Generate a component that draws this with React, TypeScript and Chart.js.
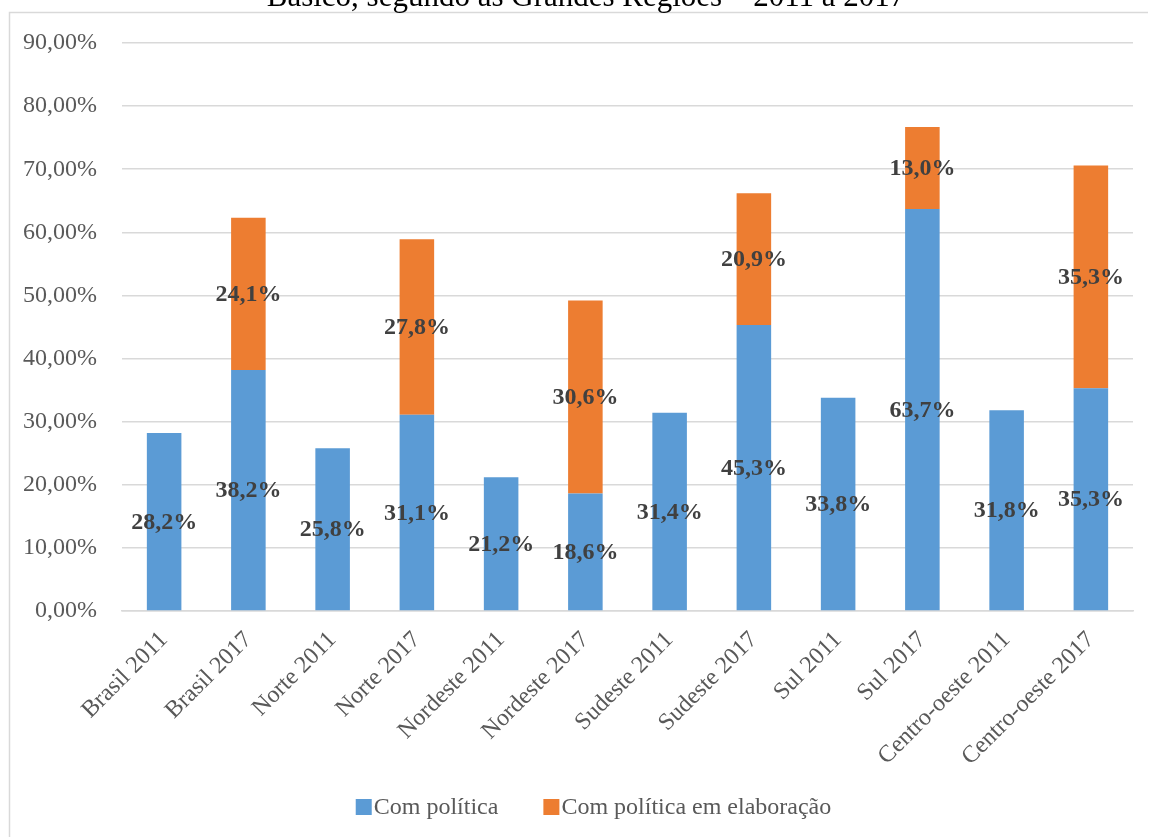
import React, { useEffect, useRef } from "react";
import { Chart, registerables } from "chart.js";

Chart.register(...registerables);

// Municípios com política, por região e ano (em %)
const categories = [
  "Brasil 2011",
  "Brasil 2017",
  "Norte 2011",
  "Norte 2017",
  "Nordeste 2011",
  "Nordeste 2017",
  "Sudeste 2011",
  "Sudeste 2017",
  "Sul 2011",
  "Sul 2017",
  "Centro-oeste 2011",
  "Centro-oeste 2017",
];

const comPolitica = [28.2, 38.2, 25.8, 31.1, 21.2, 18.6, 31.4, 45.3, 33.8, 63.7, 31.8, 35.3];
const emElaboracao = [0, 24.1, 0, 27.8, 0, 30.6, 0, 20.9, 0, 13.0, 0, 35.3];

const seriesNames = ["Com política", "Com política em elaboração"];
const yTicks = [0, 10, 20, 30, 40, 50, 60, 70, 80, 90];
const titleText = "Básico, segundo as Grandes Regiões – 2011 a 2017";

const SERIF = '"Liberation Serif", "Times New Roman", serif';
const BLUE = "#5B9BD5";
const ORANGE = "#ED7D31";
const GRID = "#d9d9d9";
const TEXT = "#595959";

Chart.defaults.font.family = SERIF;

const fmtPct = (v: number) => v.toFixed(1).replace(".", ",") + "%";

// moldura e título (o título fica parcialmente acima da área visível)
const framePlugin = {
  id: "frame",
  beforeDraw(chart: any) {
    const { ctx, width, height } = chart;
    ctx.save();
    ctx.strokeStyle = GRID;
    ctx.lineWidth = 1.5;
    ctx.beginPath();
    ctx.moveTo(9.5, height + 2);
    ctx.lineTo(9.5, 12.5);
    ctx.lineTo(width - 1, 12.5);
    ctx.stroke();
    ctx.fillStyle = "#000";
    ctx.font = `31px ${SERIF}`;
    ctx.textAlign = "center";
    ctx.textBaseline = "alphabetic";
    ctx.fillText(titleText, 586, 6);
    ctx.restore();
  },
};

// legenda na base, com os nomes e cores das séries
const legendPlugin = {
  id: "bottomLegend",
  afterDraw(chart: any) {
    const { ctx } = chart;
    const box = 16;
    const gap = 2;
    const itemGap = 45;
    const cy = 807;
    ctx.save();
    ctx.font = `24px ${SERIF}`;
    ctx.textBaseline = "middle";
    ctx.textAlign = "left";
    const items = chart.data.datasets.map((ds: any) => ({
      text: ds.label,
      color: ds.backgroundColor,
      w: ctx.measureText(ds.label).width,
    }));
    const total =
      items.reduce((s: number, it: any) => s + box + gap + it.w, 0) + itemGap * (items.length - 1);
    let x = 593.5 - total / 2;
    items.forEach((it: any) => {
      ctx.fillStyle = it.color;
      ctx.fillRect(x, cy - box / 2, box, box);
      x += box + gap;
      ctx.fillStyle = TEXT;
      ctx.fillText(it.text, x, cy + 1);
      x += it.w + itemGap;
    });
    ctx.restore();
  },
};

const valueLabels = {
  id: "valueLabels",
  afterDatasetsDraw(chart: any) {
    const { ctx } = chart;
    ctx.save();
    ctx.font = `bold 24px ${SERIF}`;
    ctx.fillStyle = "#404040";
    ctx.textAlign = "center";
    ctx.textBaseline = "middle";
    chart.data.datasets.forEach((ds: any, i: number) => {
      const meta = chart.getDatasetMeta(i);
      meta.data.forEach((bar: any, j: number) => {
        const v = ds.data[j];
        if (!v) return;
        const { x, y, base } = bar.getProps(["x", "y", "base"], true);
        ctx.fillText(fmtPct(v), x, (y + base) / 2 + 1);
      });
    });
    ctx.restore();
  },
};

export default function App() {
  const ref = useRef<HTMLCanvasElement>(null);

  useEffect(() => {
    document.body.style.margin = "0";
    const chart = new Chart(ref.current!, {
      type: "bar",
      data: {
        labels: categories,
        datasets: [
          {
            label: seriesNames[0],
            data: comPolitica,
            backgroundColor: BLUE,
            categoryPercentage: 1,
            barPercentage: 0.41,
          },
          {
            label: seriesNames[1],
            data: emElaboracao,
            backgroundColor: ORANGE,
            categoryPercentage: 1,
            barPercentage: 0.41,
          },
        ],
      },
      options: {
        animation: false,
        responsive: false,
        layout: { padding: { left: 9, right: 16, top: 43, bottom: 26 } },
        plugins: {
          title: { display: false },
          tooltip: { enabled: false },
          legend: { display: false },
        },
        scales: {
          x: {
            stacked: true,
            grid: { display: false, drawTicks: false },
            border: { color: GRID, width: 1.5 },
            ticks: {
              font: { family: SERIF, size: 24 },
              color: TEXT,
              minRotation: 45,
              maxRotation: 45,
              padding: 15,
              autoSkip: false,
            },
            afterFit(scale: any) {
              scale.height = 200;
            },
          },
          y: {
            stacked: true,
            min: 0,
            max: 90,
            afterBuildTicks(scale: any) {
              scale.ticks = yTicks.map((v) => ({ value: v }));
            },
            grid: { color: GRID, lineWidth: 1.5, drawTicks: false },
            border: { display: false },
            ticks: {
              font: { family: SERIF, size: 24 },
              color: TEXT,
              padding: 25,
              callback: (v: any) => Number(v).toFixed(2).replace(".", ",") + "%",
            },
            afterFit(scale: any) {
              scale.width = 113;
            },
          },
        },
      },
      plugins: [framePlugin, valueLabels, legendPlugin],
    });
    return () => chart.destroy();
  }, []);

  return (
    <div style={{ width: 1149, height: 837 }}>
      <canvas ref={ref} width={1149} height={837} />
    </div>
  );
}
